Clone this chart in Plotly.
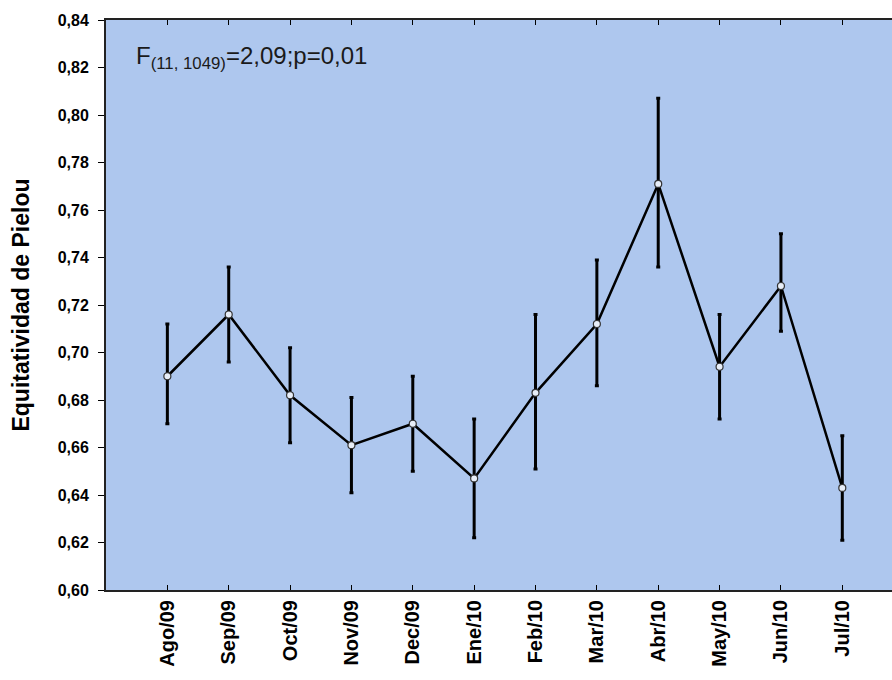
import plotly.graph_objects as go

# Monthly Pielou evenness: mean with upper / lower interval limits
months = ["Ago/09", "Sep/09", "Oct/09", "Nov/09", "Dec/09", "Ene/10",
          "Feb/10", "Mar/10", "Abr/10", "May/10", "Jun/10", "Jul/10"]
mean = [0.690, 0.716, 0.682, 0.661, 0.670, 0.647,
        0.683, 0.712, 0.771, 0.694, 0.728, 0.643]
upper = [0.712, 0.736, 0.702, 0.681, 0.690, 0.672,
         0.716, 0.739, 0.807, 0.716, 0.750, 0.665]
lower = [0.670, 0.696, 0.662, 0.641, 0.650, 0.622,
         0.651, 0.686, 0.736, 0.672, 0.709, 0.621]
y_ticks = [0.60, 0.62, 0.64, 0.66, 0.68, 0.70, 0.72,
           0.74, 0.76, 0.78, 0.80, 0.82, 0.84]

err_plus = [u - m for u, m in zip(upper, mean)]
err_minus = [m - l for m, l in zip(mean, lower)]
xpos = list(range(len(months)))

FONT = "Liberation Sans, Arial, sans-serif"

fig = go.Figure()
fig.add_trace(go.Scatter(
    x=xpos, y=mean,
    mode="lines+markers",
    line=dict(color="black", width=2.5),
    marker=dict(symbol="circle", size=7, color="#e8eef8",
                line=dict(color="#333333", width=1.2)),
    error_y=dict(type="data", symmetric=False,
                 array=err_plus, arrayminus=err_minus,
                 color="black", thickness=3, width=2),
    showlegend=False,
))

fig.add_annotation(
    x=0.036, y=0.935, xref="paper", yref="paper",
    xanchor="left", yanchor="middle", showarrow=False,
    text="F<sub>(11, 1049)</sub>=2,09;p=0,01",
    font=dict(family=FONT, size=24, color="#1a1a1a"),
)

fig.update_layout(
    width=892, height=680,
    margin=dict(l=106, r=0, t=20, b=90),
    paper_bgcolor="white",
    plot_bgcolor="#aec7ee",
    separators=", ",
    font=dict(family=FONT, color="black"),
)

fig.update_xaxes(
    range=[-1, 11.81],
    tickmode="array", tickvals=xpos, ticktext=months,
    tickangle=-90,
    tickfont=dict(family=FONT, size=20, color="black", weight="bold"),
    ticks="inside", ticklen=5, tickcolor="black", tickwidth=1,
    showline=True, linecolor="#222222", linewidth=2, mirror="ticks",
    showgrid=False, zeroline=False,
)

fig.update_yaxes(
    range=[0.60, 0.84],
    tickmode="array", tickvals=y_ticks, tickformat=".2f",
    tickfont=dict(family=FONT, size=16, color="black", weight="bold"),
    ticks="outside", ticklen=6, tickcolor="black", tickwidth=1,
    ticklabelstandoff=6,
    showline=True, linecolor="#222222", linewidth=2, mirror=False,
    showgrid=False, zeroline=False,
    title=dict(text="Equitatividad de Pielou", standoff=22,
               font=dict(family=FONT, size=23, color="black",
                         weight="bold")),
)

fig.write_html("out.html")
